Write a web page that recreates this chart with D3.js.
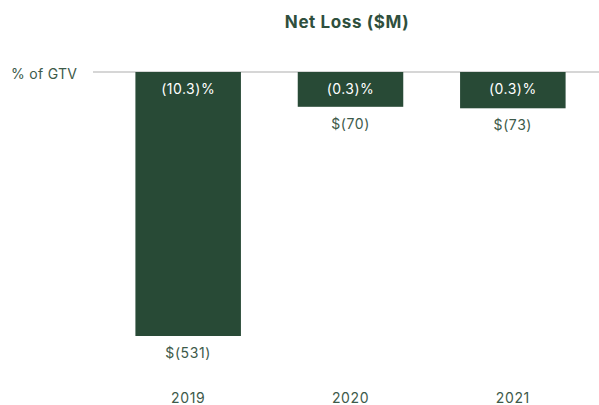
<!DOCTYPE html>
<html>
    <head>
        <title></title>
        <script src="https://d3js.org/d3.v7.min.js"></script>
        <style>
            body { margin: 0; background: #fff; }
        </style>
    </head>

    <body>
        <div id="my_dataviz"></div>
    </body>

    <script>
        // data
        var years = ["2019", "2020", "2021"]
        var netLoss = [531, 70, 73]
        var pctLabels = ["(10.3)%", "(0.3)%", "(0.3)%"]
        var lossLabels = ["$(531)", "$(70)", "$(73)"]

        var width = 599
        var height = 405
        var baseY = 72
        var font = "Inter, 'Open Sans', sans-serif"

        var svg = d3.select("#my_dataviz")
        .append("svg")
        .attr("width", width)
        .attr("height", height)
        .style("font-family", font)

        var x = d3.scaleBand()
        .domain(years)
        .range([107, 594])
        .paddingInner(0.35)
        .paddingOuter(0.175)

        var y = d3.scaleLinear()
        .domain([0, 531])
        .range([baseY, 336])

        // title
        svg.append("text")
        .attr("x", 347)
        .attr("y", 28)
        .attr("text-anchor", "middle")
        .style("font-size", "17px")
        .style("font-weight", "700")
        .style("letter-spacing", "0.6px")
        .style("fill", "#2f4f3d")
        .text("Net Loss ($M)")

        // baseline
        svg.append("line")
        .attr("x1", 93)
        .attr("x2", 599)
        .attr("y1", baseY)
        .attr("y2", baseY)
        .style("stroke", "#d6d6d6")
        .style("stroke-width", 2)

        svg.append("text")
        .attr("x", 11)
        .attr("y", 79)
        .style("font-size", "14px")
        .style("letter-spacing", "0.3px")
        .style("fill", "#3d5a4a")
        .text("% of GTV")

        // bars
        svg.selectAll("rect.bar")
        .data(netLoss)
        .enter()
        .append("rect")
        .attr("class", "bar")
        .attr("x", function(d, i) { return x(years[i]) })
        .attr("y", baseY)
        .attr("width", x.bandwidth())
        .attr("height", function(d) { return y(d) - baseY })
        .style("fill", "#284a36")

        // % labels inside bars
        svg.selectAll("text.pct")
        .data(pctLabels)
        .enter()
        .append("text")
        .attr("class", "pct")
        .attr("x", function(d, i) { return x(years[i]) + x.bandwidth() / 2 })
        .attr("y", 94)
        .attr("text-anchor", "middle")
        .style("font-size", "14px")
        .style("letter-spacing", "0.5px")
        .style("fill", "#ffffff")
        .text(function(d) { return d })

        // $ labels below bars
        svg.selectAll("text.loss")
        .data(lossLabels)
        .enter()
        .append("text")
        .attr("class", "loss")
        .attr("x", function(d, i) { return x(years[i]) + x.bandwidth() / 2 })
        .attr("y", function(d, i) { return y(netLoss[i]) + 22 })
        .attr("text-anchor", "middle")
        .style("font-size", "14px")
        .style("letter-spacing", "0.6px")
        .style("fill", "#3d5a4a")
        .text(function(d) { return d })

        // x axis labels
        var xAxis = svg.append("g")
        .attr("transform", "translate(0,393)")
        .call(d3.axisBottom(x).tickSize(0).tickPadding(0))

        xAxis.select(".domain").remove()
        xAxis.selectAll("text")
        .style("font-family", font)
        .style("font-size", "14px")
        .style("letter-spacing", "0.6px")
        .style("fill", "#3d5a4a")
    </script>
</html>
